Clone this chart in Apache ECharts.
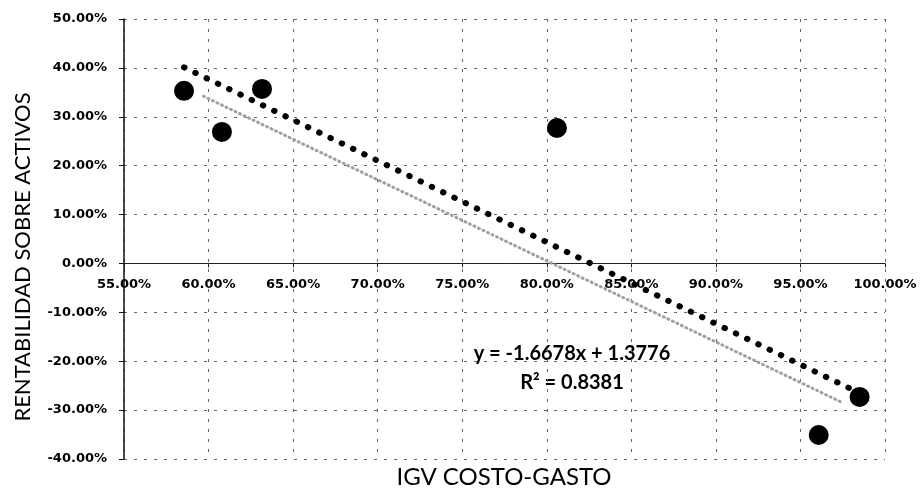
<!DOCTYPE html>
<html>
<head>
<meta charset="utf-8">
<script src="https://cdn.jsdelivr.net/npm/echarts@6/dist/echarts.min.js"></script>
<style>
html,body{margin:0;padding:0;background:#fff;}
#chart{width:920px;height:489px;}
</style>
</head>
<body>
<div id="chart"></div>
<script>
// Data (fractions)
const igvCostoGasto = [0.5855, 0.6079, 0.6316, 0.8060, 0.9850, 0.9608];
const rentabilidad  = [0.353, 0.269, 0.357, 0.277, -0.273, -0.351];
const trendSlope = -1.6678;
const trendIntercept = 1.3776;
const trendRange = [0.5855, 0.9850];
const greyLineX = [0.597, 0.975];
const greyLineY = [0.342, -0.285];
const xTicks = {min: 0.55, max: 1.0, interval: 0.05};
const yTicks = {min: -0.40, max: 0.50, interval: 0.10};
const equationText = 'y = -1.6678x + 1.3776';
const r2Text = 'R² = 0.8381';
const xTitle = 'IGV COSTO-GASTO';
const yTitle = 'RENTABILIDAD SOBRE ACTIVOS';

const scatterData = igvCostoGasto.map((x, i) => [x, rentabilidad[i]]);
const trendData = trendRange.map(x => [x, trendSlope * x + trendIntercept]);
const greyData = greyLineX.map((x, i) => [x, greyLineY[i]]);

const gridTop = 19, gridBottom = 30, chartH = 489;
const plotH = chartH - gridTop - gridBottom;
// shift x axis (with its labels) up to y = 0
const zeroOffset = -plotH * (0 - yTicks.min) / (yTicks.max - yTicks.min);

const pct = v => (v * 100).toFixed(2) + '%';
const gridLine = {show: true, lineStyle: {color: '#666', width: 1, type: [3, 7]}};
const tickFont = {color: '#000', fontFamily: 'DejaVu Sans', fontWeight: 'bold', fontSize: 13};

const chart = echarts.init(document.getElementById('chart'), null, {renderer: 'canvas'});
chart.setOption({
  animation: false,
  backgroundColor: '#fff',
  grid: {left: 124, right: 35, top: gridTop, bottom: gridBottom, containLabel: false},
  xAxis: {
    type: 'value', min: xTicks.min, max: xTicks.max, interval: xTicks.interval,
    offset: zeroOffset,
    axisLine: {show: true, onZero: false, lineStyle: {color: '#222', width: 1}},
    axisTick: {show: true, length: 4, inside: false, lineStyle: {color: '#222'}},
    axisLabel: Object.assign({formatter: pct, margin: 15}, tickFont),
    splitLine: gridLine
  },
  yAxis: {
    type: 'value', min: yTicks.min, max: yTicks.max, interval: yTicks.interval,
    axisLine: {show: true, lineStyle: {color: '#111', width: 1.5}},
    axisTick: {show: true, length: 5, lineStyle: {color: '#111'}},
    axisLabel: Object.assign({formatter: pct, margin: 17}, tickFont),
    splitLine: gridLine
  },
  series: [
    {
      type: 'line', data: greyData, symbol: 'none', silent: true,
      lineStyle: {color: '#a0a0a0', width: 3, type: [1, 4], cap: 'round'}
    },
    {
      type: 'line', data: trendData, symbol: 'none', silent: true,
      lineStyle: {color: '#000', width: 6, type: [0.5, 12], cap: 'round'}
    },
    {
      type: 'scatter', data: scatterData, symbol: 'circle', symbolSize: 20,
      itemStyle: {color: '#000', opacity: 1}
    }
  ],
  graphic: [
    {type: 'text', rotation: Math.PI / 2, x: 23, y: 257,
     style: {text: yTitle, fill: '#000', font: '22px Lato', textAlign: 'center', textVerticalAlign: 'middle'}},
    {type: 'text', x: 504, y: 477,
     style: {text: xTitle, fill: '#000', font: '24px Lato', textAlign: 'center', textVerticalAlign: 'middle'}},
    {type: 'text', x: 572, y: 354,
     style: {text: equationText, fill: '#000', font: 'bold 20px Lato', textAlign: 'center', textVerticalAlign: 'middle'}},
    {type: 'text', x: 572, y: 383,
     style: {text: r2Text, fill: '#000', font: 'bold 20px Lato', textAlign: 'center', textVerticalAlign: 'middle'}}
  ]
});
</script>
</body>
</html>
